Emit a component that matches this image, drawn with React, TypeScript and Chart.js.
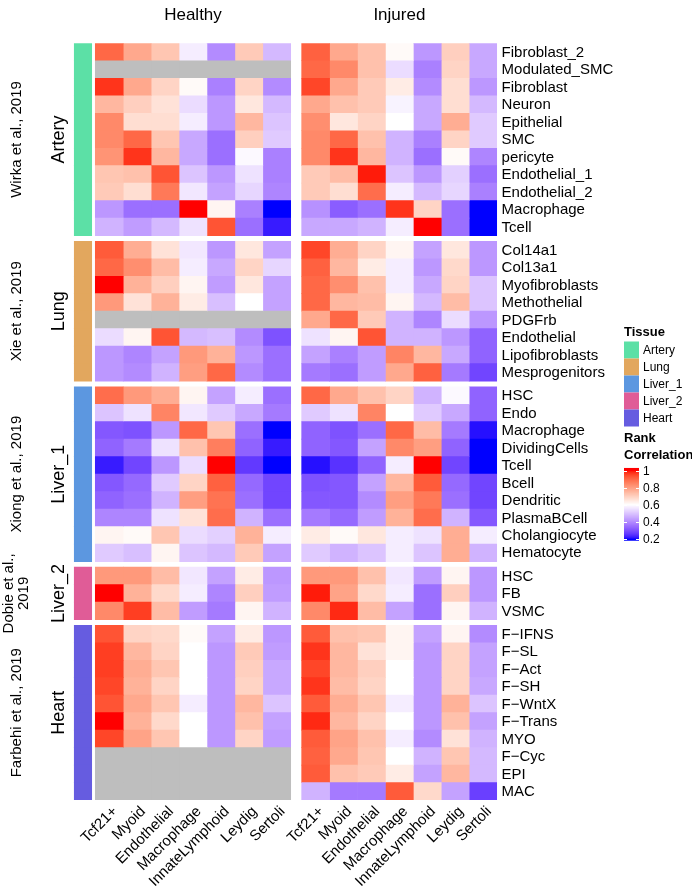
import React, { useEffect, useRef } from "react";
import { Chart, registerables } from "chart.js";
Chart.register(...registerables);

const NA = null;
const NAROW = [NA, NA, NA, NA, NA, NA, NA];

const columns = ["Tcf21+", "Myoid", "Endothelial", "Macrophage", "InnateLymphoid", "Leydig", "Sertoli"];
const conditions = ["Healthy", "Injured"];
const tissues = ["Artery", "Lung", "Liver_1", "Liver_2", "Heart"];
const tissueColors = ["#5CE0A6", "#E2A75E", "#5C97E0", "#E05C97", "#665CE0"];
const studies = [["Wirka et al., 2019"], ["Xie et al., 2019"], ["Xiong et al., 2019"], ["Dobie et al.,", "2019"], ["Farbehi et al., 2019"]];

const arteryRows = ["Fibroblast_2", "Modulated_SMC", "Fibroblast", "Neuron", "Epithelial", "SMC", "pericyte", "Endothelial_1", "Endothelial_2", "Macrophage", "Tcell"];
const lungRows = ["Col14a1", "Col13a1", "Myofibroblasts", "Methothelial", "PDGFrb", "Endothelial", "Lipofibroblasts", "Mesprogenitors"];
const liver1Rows = ["HSC", "Endo", "Macrophage", "DividingCells", "Tcell", "Bcell", "Dendritic", "PlasmaBCell", "Cholangiocyte", "Hematocyte"];
const liver2Rows = ["HSC", "FB", "VSMC"];
const heartRows = ["F\u2212IFNS", "F\u2212SL", "F\u2212Act", "F\u2212SH", "F\u2212WntX", "F\u2212Trans", "MYO", "F\u2212Cyc", "EPI", "MAC"];

const healthyArtery = [
  [0.90, 0.78, 0.72, 0.57, 0.40, 0.71, 0.48],
  NAROW,
  [0.97, 0.78, 0.69, 0.61, 0.38, 0.69, 0.40],
  [0.75, 0.70, 0.66, 0.54, 0.42, 0.65, 0.48],
  [0.84, 0.67, 0.67, 0.57, 0.42, 0.75, 0.50],
  [0.84, 0.90, 0.72, 0.45, 0.35, 0.70, 0.51],
  [0.82, 0.97, 0.75, 0.45, 0.35, 0.59, 0.38],
  [0.72, 0.73, 0.93, 0.50, 0.42, 0.55, 0.38],
  [0.71, 0.67, 0.87, 0.56, 0.44, 0.53, 0.39],
  [0.42, 0.35, 0.35, 1.00, 0.62, 0.38, 0.20],
  [0.47, 0.43, 0.48, 0.55, 0.93, 0.35, 0.22],
];
const injuredArtery = [
  [0.91, 0.78, 0.73, 0.61, 0.42, 0.70, 0.45],
  [0.90, 0.84, 0.73, 0.54, 0.38, 0.69, 0.45],
  [0.95, 0.78, 0.71, 0.64, 0.40, 0.67, 0.42],
  [0.78, 0.73, 0.71, 0.58, 0.45, 0.67, 0.48],
  [0.83, 0.65, 0.69, 0.60, 0.45, 0.77, 0.51],
  [0.84, 0.90, 0.73, 0.47, 0.38, 0.69, 0.51],
  [0.84, 0.97, 0.75, 0.47, 0.35, 0.61, 0.39],
  [0.71, 0.74, 0.99, 0.50, 0.42, 0.52, 0.35],
  [0.71, 0.67, 0.89, 0.57, 0.48, 0.53, 0.38],
  [0.41, 0.32, 0.35, 0.97, 0.69, 0.35, 0.20],
  [0.45, 0.45, 0.47, 0.57, 1.00, 0.35, 0.20],
];
const healthyLung = [
  [0.92, 0.77, 0.66, 0.56, 0.42, 0.65, 0.44],
  [0.90, 0.83, 0.74, 0.57, 0.45, 0.69, 0.53],
  [1.00, 0.76, 0.70, 0.62, 0.43, 0.65, 0.44],
  [0.81, 0.66, 0.76, 0.64, 0.49, 0.60, 0.44],
  NAROW,
  [0.54, 0.62, 0.93, 0.48, 0.49, 0.40, 0.30],
  [0.42, 0.39, 0.44, 0.81, 0.76, 0.42, 0.35],
  [0.42, 0.40, 0.47, 0.80, 0.90, 0.40, 0.35],
];
const injuredLung = [
  [0.95, 0.77, 0.69, 0.62, 0.44, 0.65, 0.42],
  [0.91, 0.75, 0.64, 0.57, 0.42, 0.68, 0.42],
  [0.90, 0.83, 0.73, 0.57, 0.45, 0.69, 0.50],
  [0.90, 0.75, 0.74, 0.62, 0.48, 0.74, 0.50],
  [0.78, 0.90, 0.71, 0.47, 0.39, 0.54, 0.42],
  [0.55, 0.62, 0.93, 0.47, 0.47, 0.42, 0.33],
  [0.44, 0.38, 0.43, 0.85, 0.75, 0.45, 0.33],
  [0.37, 0.35, 0.43, 0.78, 0.91, 0.37, 0.28],
];
const healthyLiver1 = [
  [0.89, 0.81, 0.77, 0.62, 0.44, 0.57, 0.35],
  [0.50, 0.55, 0.85, 0.56, 0.51, 0.45, 0.37],
  [0.31, 0.30, 0.42, 0.90, 0.72, 0.35, 0.20],
  [0.33, 0.37, 0.55, 0.73, 0.86, 0.33, 0.22],
  [0.22, 0.28, 0.42, 0.54, 1.00, 0.26, 0.20],
  [0.31, 0.34, 0.51, 0.69, 0.91, 0.34, 0.28],
  [0.33, 0.35, 0.47, 0.80, 0.88, 0.35, 0.28],
  [0.39, 0.39, 0.55, 0.66, 0.89, 0.47, 0.35],
  [0.62, 0.61, 0.72, 0.54, 0.52, 0.76, 0.57],
  [0.51, 0.49, 0.62, 0.50, 0.48, 0.71, 0.44],
];
const injuredLiver1 = [
  [0.90, 0.78, 0.73, 0.69, 0.47, 0.59, 0.33],
  [0.51, 0.55, 0.85, 0.60, 0.51, 0.45, 0.33],
  [0.33, 0.30, 0.35, 0.90, 0.74, 0.37, 0.21],
  [0.33, 0.31, 0.44, 0.84, 0.80, 0.33, 0.20],
  [0.21, 0.25, 0.33, 0.57, 1.00, 0.28, 0.20],
  [0.30, 0.31, 0.44, 0.75, 0.92, 0.34, 0.28],
  [0.31, 0.31, 0.40, 0.80, 0.87, 0.35, 0.28],
  [0.37, 0.34, 0.43, 0.76, 0.89, 0.47, 0.31],
  [0.64, 0.61, 0.65, 0.57, 0.55, 0.77, 0.57],
  [0.51, 0.47, 0.50, 0.57, 0.50, 0.77, 0.47],
];
const healthyLiver2 = [
  [0.81, 0.81, 0.74, 0.56, 0.44, 0.64, 0.42],
  [1.00, 0.76, 0.68, 0.57, 0.39, 0.70, 0.43],
  [0.84, 0.96, 0.74, 0.43, 0.37, 0.62, 0.47],
];
const injuredLiver2 = [
  [0.81, 0.81, 0.73, 0.56, 0.43, 0.62, 0.42],
  [0.99, 0.79, 0.68, 0.57, 0.35, 0.70, 0.42],
  [0.84, 0.98, 0.74, 0.44, 0.35, 0.62, 0.47],
];
const healthyHeart = [
  [0.93, 0.69, 0.68, 0.61, 0.44, 0.64, 0.42],
  [0.96, 0.75, 0.69, 0.60, 0.42, 0.71, 0.43],
  [0.96, 0.77, 0.72, 0.60, 0.42, 0.70, 0.45],
  [0.95, 0.76, 0.69, 0.60, 0.42, 0.69, 0.45],
  [0.93, 0.78, 0.72, 0.57, 0.42, 0.75, 0.50],
  [1.00, 0.76, 0.68, 0.60, 0.42, 0.73, 0.44],
  [0.95, 0.79, 0.72, 0.60, 0.42, 0.69, 0.43],
  NAROW,
  NAROW,
  NAROW,
];
const injuredHeart = [
  [0.92, 0.73, 0.72, 0.62, 0.44, 0.62, 0.40],
  [0.97, 0.75, 0.66, 0.62, 0.42, 0.69, 0.44],
  [0.95, 0.75, 0.70, 0.60, 0.42, 0.69, 0.44],
  [0.97, 0.74, 0.69, 0.60, 0.42, 0.69, 0.45],
  [0.92, 0.77, 0.72, 0.57, 0.42, 0.76, 0.50],
  [0.98, 0.75, 0.69, 0.60, 0.42, 0.73, 0.44],
  [0.92, 0.79, 0.73, 0.57, 0.40, 0.66, 0.47],
  [0.91, 0.78, 0.72, 0.60, 0.47, 0.72, 0.48],
  [0.92, 0.73, 0.71, 0.64, 0.44, 0.75, 0.48],
  [0.47, 0.37, 0.37, 0.92, 0.68, 0.44, 0.27],
];

const legendTicks = [0.2, 0.4, 0.6, 0.8, 1];
const colorBreaks = [0.2, 0.6, 1.0];

const groupRows = [arteryRows, lungRows, liver1Rows, liver2Rows, heartRows];
const healthyGroups = [healthyArtery, healthyLung, healthyLiver1, healthyLiver2, healthyHeart];
const injuredGroups = [injuredArtery, injuredLung, injuredLiver1, injuredLiver2, injuredHeart];

// layout constants (scale units)
const GROUP_GAP = 0.32;
const PANEL_OFFSET = 7.394;
const X_MIN = -0.77;
const X_MAX = PANEL_OFFSET + 7;
const ANNO_X: [number, number] = [-0.763, -0.129];
const NA_COLOR = "#BEBEBE";
const FONT = '"Liberation Sans", Arial, Helvetica, sans-serif';

// --- LAB colour interpolation (like circlize::colorRamp2) ---
function toLin(c: number) { c /= 255; return c <= 0.04045 ? c / 12.92 : Math.pow((c + 0.055) / 1.055, 2.4); }
function fromLin(c: number) { const v = c <= 0.0031308 ? 12.92 * c : 1.055 * Math.pow(c, 1 / 2.4) - 0.055; return Math.round(Math.max(0, Math.min(1, v)) * 255); }
const XN = 0.95047, ZN = 1.08883;
function rgb2lab(rgb: number[]) {
  const R = toLin(rgb[0]), G = toLin(rgb[1]), B = toLin(rgb[2]);
  const X = 0.4124564 * R + 0.3575761 * G + 0.1804375 * B;
  const Y = 0.2126729 * R + 0.7151522 * G + 0.0721750 * B;
  const Z = 0.0193339 * R + 0.1191920 * G + 0.9503041 * B;
  const f = (t: number) => (t > 0.008856 ? Math.cbrt(t) : 7.787 * t + 16 / 116);
  const fx = f(X / XN), fy = f(Y), fz = f(Z / ZN);
  return [116 * fy - 16, 500 * (fx - fy), 200 * (fy - fz)];
}
function lab2rgb(lab: number[]) {
  const fy = (lab[0] + 16) / 116, fx = fy + lab[1] / 500, fz = fy - lab[2] / 200;
  const fi = (t: number) => (t > 0.206893 ? t * t * t : (t - 16 / 116) / 7.787);
  const X = fi(fx) * XN, Y = fi(fy), Z = fi(fz) * ZN;
  const R = 3.2404542 * X - 1.5371385 * Y - 0.4985314 * Z;
  const G = -0.9692660 * X + 1.8760108 * Y + 0.0415560 * Z;
  const B = 0.0556434 * X - 0.2040259 * Y + 1.0572252 * Z;
  return [fromLin(R), fromLin(G), fromLin(B)];
}
const rampLabs = [rgb2lab([0, 0, 255]), rgb2lab([255, 255, 255]), rgb2lab([255, 0, 0])];
function colorFor(v: number | null) {
  if (v === null || v === undefined) return NA_COLOR;
  const i = v <= colorBreaks[1] ? 0 : 1;
  let t = (v - colorBreaks[i]) / (colorBreaks[i + 1] - colorBreaks[i]);
  t = Math.max(0, Math.min(1, t));
  const a = rampLabs[i], b = rampLabs[i + 1];
  const c = lab2rgb([a[0] + (b[0] - a[0]) * t, a[1] + (b[1] - a[1]) * t, a[2] + (b[2] - a[2]) * t]);
  return `rgb(${c[0]},${c[1]},${c[2]})`;
}

// row positions (scale units, y reversed)
type RowInfo = { label: string; g: number; yc: number };
const rowInfo: RowInfo[] = [];
const groupSpans: [number, number][] = [];
{
  let pos = 0;
  groupRows.forEach((rows, g) => {
    const start = pos;
    rows.forEach((label) => { rowInfo.push({ label, g, yc: pos + 0.5 }); pos += 1; });
    groupSpans.push([start, pos]);
    pos += GROUP_GAP;
  });
}
const Y_MAX = rowInfo[rowInfo.length - 1].yc + 0.5;

function buildDatasets() {
  const ds: any[] = [];
  // tissue annotation
  ds.push({
    data: rowInfo.map((r) => ({ x: ANNO_X, y: r.yc })),
    backgroundColor: rowInfo.map((r) => tissueColors[r.g]),
  });
  [healthyGroups, injuredGroups].forEach((groups, p) => {
    columns.forEach((_, c) => {
      const vals: (number | null)[] = [];
      groups.forEach((m) => m.forEach((row) => vals.push(row[c])));
      const x0 = p * PANEL_OFFSET + c;
      ds.push({
        data: rowInfo.map((r) => ({ x: [x0, x0 + 1], y: r.yc })),
        backgroundColor: vals.map((v) => colorFor(v)),
      });
    });
  });
  return ds.map((d) => ({ ...d, grouped: false, borderWidth: 0, barPercentage: 1, categoryPercentage: 1 }));
}

const textPlugin = {
  id: "heatmapText",
  afterDraw(chart: any) {
    const { ctx } = chart;
    const x = chart.scales.x, y = chart.scales.y;
    ctx.save();
    ctx.fillStyle = "#000";
    // panel titles
    ctx.font = `17px ${FONT}`;
    ctx.textAlign = "center";
    ctx.textBaseline = "middle";
    conditions.forEach((c, p) => {
      const off = p * PANEL_OFFSET;
      const cx = (x.getPixelForValue(off) + x.getPixelForValue(off + 7)) / 2;
      ctx.fillText(c, cx, 15);
    });
    // row labels
    ctx.font = `15px ${FONT}`;
    ctx.textAlign = "left";
    const rx = x.getPixelForValue(X_MAX) + 4.5;
    rowInfo.forEach((r) => ctx.fillText(r.label, rx, y.getPixelForValue(r.yc) + 0.5));
    // column labels
    const by = y.getPixelForValue(Y_MAX);
    conditions.forEach((_, p) => {
      columns.forEach((col, c) => {
        const cx = x.getPixelForValue(p * PANEL_OFFSET + c + 0.5);
        ctx.save();
        ctx.translate(cx + 6, by + 9);
        ctx.rotate(-Math.PI / 4);
        ctx.textAlign = "right";
        ctx.textBaseline = "middle";
        ctx.fillText(col, 0, 0);
        ctx.restore();
      });
    });
    // tissue titles & study labels
    groupSpans.forEach(([s, e], g) => {
      const yc = (y.getPixelForValue(s) + y.getPixelForValue(e)) / 2;
      ctx.save();
      ctx.translate(59.5, yc);
      ctx.rotate(-Math.PI / 2);
      ctx.font = `18px ${FONT}`;
      ctx.textAlign = "center";
      ctx.textBaseline = "middle";
      ctx.fillText(tissues[g], 0, 0);
      ctx.restore();
      const lines = studies[g];
      ctx.save();
      ctx.translate(16.5, yc);
      ctx.rotate(-Math.PI / 2);
      ctx.font = `15px ${FONT}`;
      ctx.textAlign = "center";
      ctx.textBaseline = "middle";
      lines.forEach((ln, i) => ctx.fillText(ln, 0, (i - (lines.length - 1) / 2) * 15.5));
      ctx.restore();
    });
    // legend: Tissue
    const lx = 624;
    ctx.textAlign = "left";
    ctx.textBaseline = "middle";
    ctx.font = `bold 13px ${FONT}`;
    ctx.fillText("Tissue", lx, 332);
    let ky = 341.5;
    tissues.forEach((t, i) => {
      ctx.fillStyle = tissueColors[i];
      ctx.fillRect(lx, ky, 15, 17);
      ctx.fillStyle = "#000";
      ctx.font = `12px ${FONT}`;
      ctx.fillText(t, lx + 19, ky + 9);
      ky += 17;
    });
    // legend: colorbar
    ctx.font = `bold 13px ${FONT}`;
    ctx.fillText("Rank", lx, 438);
    ctx.fillText("Correlation", lx, 455);
    const pxFor = (v: number) => 539 - (v - 0.2) * 85.6;
    const top = pxFor(1.03), bot = pxFor(0.18);
    for (let py = top; py < bot; py += 1) {
      const v = 0.2 + (539 - py - 0.5) / 85.6;
      ctx.fillStyle = colorFor(v);
      ctx.fillRect(lx, py, 15, Math.min(1.2, bot - py));
    }
    ctx.strokeStyle = "#fff";
    ctx.lineWidth = 1;
    ctx.font = `12px ${FONT}`;
    legendTicks.forEach((t) => {
      const py = Math.round(pxFor(t)) + 0.5;
      ctx.beginPath();
      ctx.moveTo(lx, py); ctx.lineTo(lx + 3, py);
      ctx.moveTo(lx + 12, py); ctx.lineTo(lx + 15, py);
      ctx.stroke();
      ctx.fillStyle = "#000";
      ctx.fillText(String(t), lx + 19, py + 0.5);
    });
    ctx.restore();
  },
};

export default function App() {
  const ref = useRef<HTMLCanvasElement>(null);
  useEffect(() => {
    const canvas = ref.current!;
    const chart = new Chart(canvas, {
      type: "bar",
      data: { datasets: buildDatasets() },
      options: {
        indexAxis: "y",
        responsive: false,
        animation: false,
        devicePixelRatio: 1,
        events: [],
        layout: { padding: { left: 73.81, right: 692 - 497.06, top: 43.3, bottom: 887 - 800.1 } },
        plugins: { legend: { display: false }, tooltip: { enabled: false } },
        scales: {
          x: { type: "linear", min: X_MIN, max: X_MAX, display: false, offset: false },
          y: { type: "linear", min: 0, max: Y_MAX, reverse: true, display: false, offset: false },
        },
      },
      plugins: [textPlugin],
    } as any);
    return () => chart.destroy();
  }, []);
  return (
    <div style={{ position: "fixed", left: 0, top: 0, width: 692, height: 887, background: "#fff" }}>
      <canvas ref={ref} width={692} height={887} style={{ width: 692, height: 887, display: "block" }} />
    </div>
  );
}
